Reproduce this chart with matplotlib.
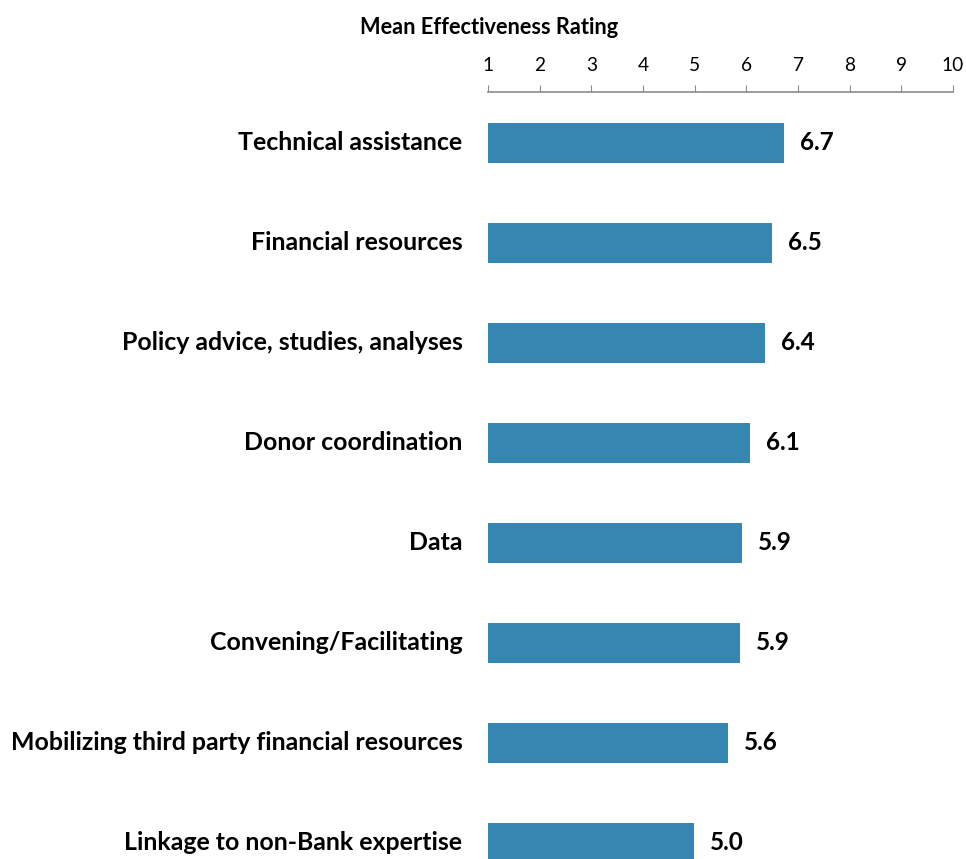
import matplotlib
matplotlib.use("Agg")
import matplotlib.pyplot as plt

categories = ["Technical assistance", "Financial resources", "Policy advice, studies, analyses",
              "Donor coordination", "Data", "Convening/Facilitating",
              "Mobilizing third party financial resources", "Linkage to non-Bank expertise"]
values = [6.72, 6.50, 6.36, 6.07, 5.91, 5.87, 5.64, 4.99]
ticks = [1, 2, 3, 4, 5, 6, 7, 8, 9, 10]

plt.rcParams['font.family'] = ['Lato', 'DejaVu Sans']

fig = plt.figure(figsize=(9.66, 8.59), dpi=100)
ax = fig.add_axes([488/966, 0, 465/966, 1 - 92/859])
ypos = list(range(len(categories)))
ax.barh(ypos, [v - 1 for v in values], left=1, height=0.4, color="#3587B2")
ax.set_xlim(1, 10)
ax.set_ylim(7.16, -0.51)
for y, v in zip(ypos, values):
    ax.text(v + 0.31, y, f"{v:.1f}", va="center", ha="left", fontsize=17.5, fontweight="bold")
for y, c in zip(ypos, categories):
    ax.text(-0.055, y, c, transform=ax.get_yaxis_transform(), va="center", ha="right",
            fontsize=17.9, fontweight="bold")
ax.set_yticks([])
ax.xaxis.tick_top()
ax.set_xticks(ticks)
ax.tick_params(axis="x", direction="out", length=5, color="#8c8c8c", labelsize=13.8, pad=8)
for s in ["bottom", "left", "right"]:
    ax.spines[s].set_visible(False)
ax.spines["top"].set_color("#8c8c8c")
ax.spines["top"].set_linewidth(1.2)
fig.text(489/966, 1 - 27/859, "Mean Effectiveness Rating", ha="center", va="center",
         fontsize=15.7, fontweight="bold")
fig.savefig("out.png", dpi=100)
